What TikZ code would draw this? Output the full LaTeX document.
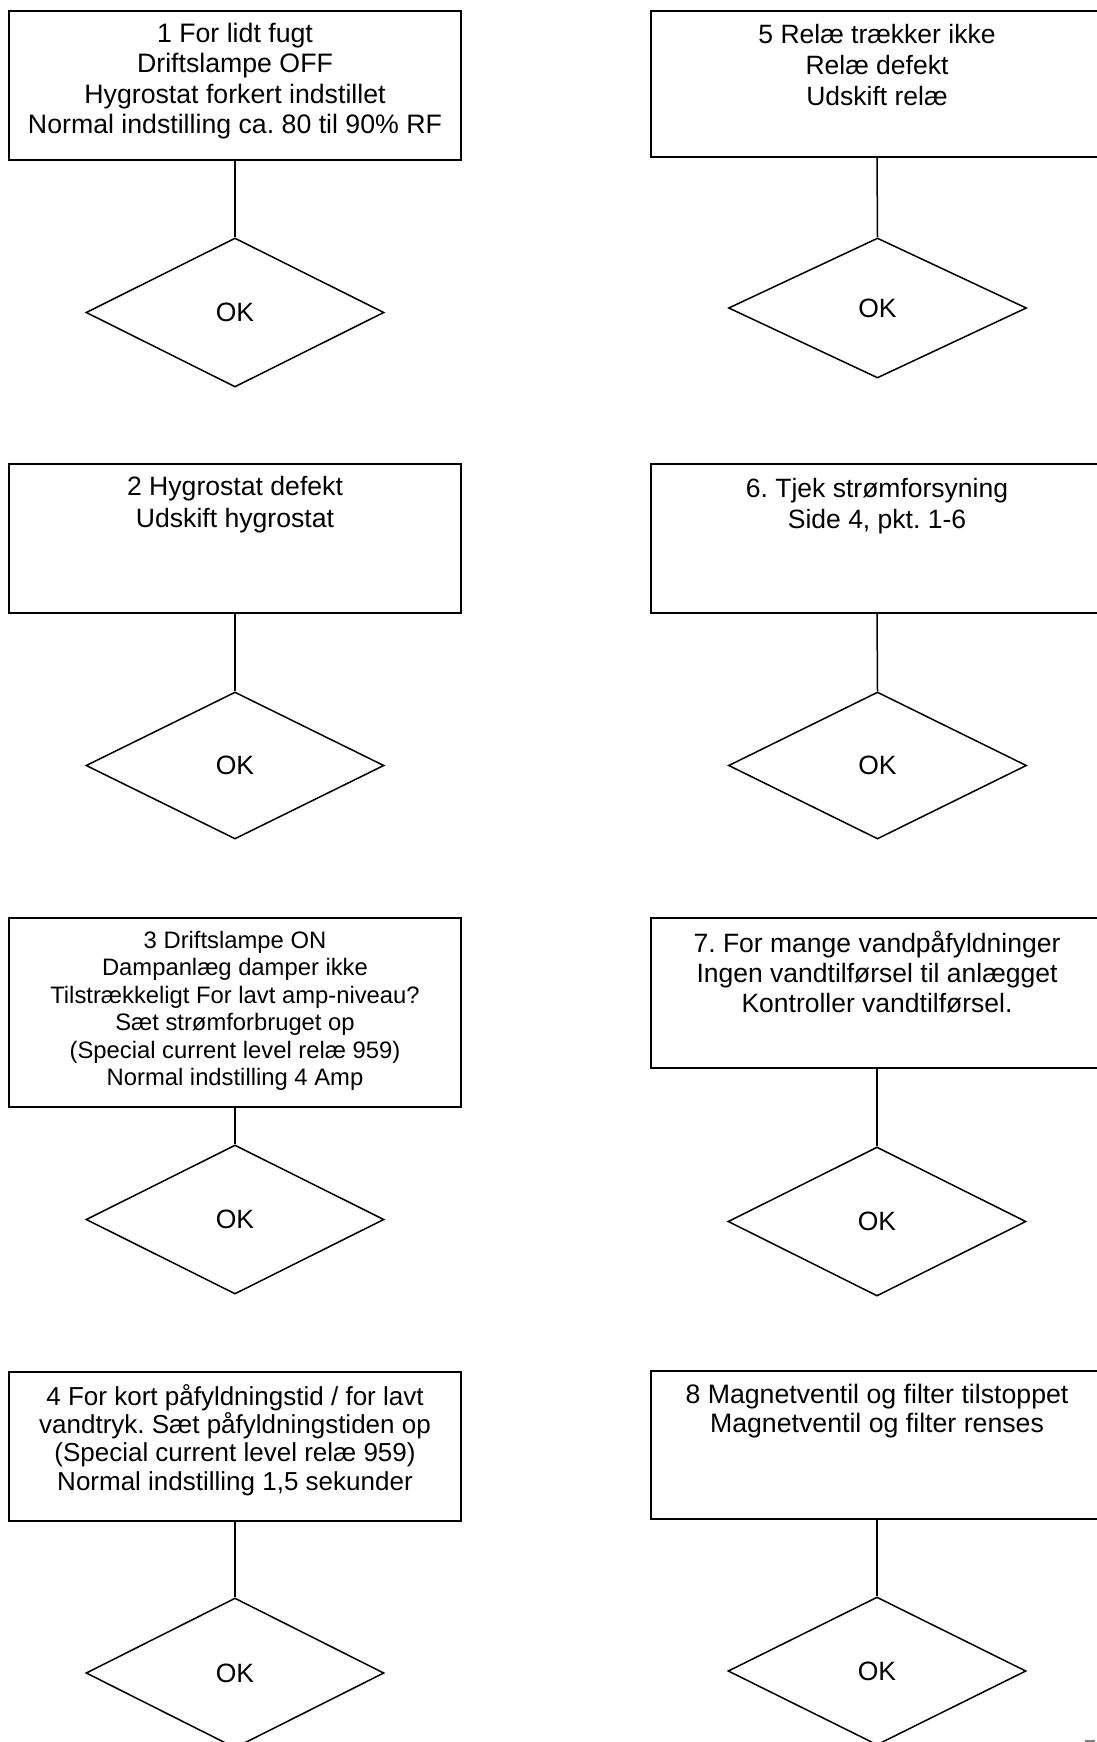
\documentclass[tikz,border=0pt]{standalone}
\usepackage{fontspec}
\setmainfont{Liberation Sans}
\usetikzlibrary{shapes.geometric}
\newcommand{\fsz}[2]{\fontsize{#1}{#2}\selectfont}
\newcommand{\topstrut}{\rule{0pt}{24pt}}
\frenchspacing
\begin{document}
\frenchspacing
\begin{tikzpicture}[x=1pt,y=-1pt,
  box/.style={draw=black, line width=2pt, minimum width=452pt, inner sep=0pt},
  dia/.style={draw=black, diamond, line width=1.5pt, minimum width=298pt, inner sep=0pt, font=\fsz{26.5}{30.5}},
  lbl/.style={anchor=north, inner sep=0pt, align=center},
  link/.style={draw=black, line width=1.5pt}]
\useasboundingbox (0,0) rectangle (1097,1742);
\clip (0,0) rectangle (1097,1742);
\fill[white] (0,0) rectangle (1097,1742);
% left column
\node[box, minimum height=149pt] (b1) at (235,85.5) {};
\node[lbl, font=\fsz{26.7}{30.5}] (t1) at (235,18) {\topstrut 1 For lidt fugt\\Driftslampe OFF\\Hygrostat forkert indstillet\\Normal indstilling ca. 80 til 90\% RF};
\node[dia, minimum height=149pt] (d1) at (235,312.5) {OK};
\draw[link] (b1.south) -- (d1.north);

\node[box, minimum height=149pt] (b2) at (235,538.5) {};
\node[lbl, font=\fsz{26.6}{32}] (t2) at (235,471) {\topstrut 2 Hygrostat defekt\\Udskift hygrostat};
\node[dia, minimum height=147pt] (d2) at (235,765.5) {OK};
\draw[link] (b2.south) -- (d2.north);

\node[box, minimum height=189pt] (b3) at (235,1012.5) {};
\node[lbl, font=\fsz{23.8}{27.5}] (t3) at (235,924) {\topstrut 3 Driftslampe ON\\Dampanlæg damper ikke\\Tilstrækkeligt For lavt amp-niveau?\\Sæt strømforbruget op\\(Special current level relæ 959)\\Normal indstilling 4 Amp};
\node[dia, minimum height=149pt] (d3) at (235,1219.5) {OK};
\draw[link] (b3.south) -- (d3.north);

\node[box, minimum height=149pt] (b4) at (235,1446.5) {};
\node[lbl, font=\fsz{26}{28.3}] (t4) at (235,1381) {\topstrut 4 For kort påfyldningstid / for lavt\\vandtryk. Sæt påfyldningstiden op\\(Special current level relæ 959)\\Normal indstilling 1,5 sekunder};
\node[dia, minimum height=150pt] (d4) at (235,1673) {OK};
\draw[link] (b4.south) -- (d4.north);

% right column
\node[box, minimum height=146pt] (b5) at (877,84) {};
\node[lbl, font=\fsz{26.5}{31}] (t5) at (877,19) {\topstrut 5 Relæ trækker ikke\\Relæ defekt\\Udskift relæ};
\node[dia, minimum height=140pt] (d5) at (877.5,308) {OK};
\draw[link] (b5.south) -- (d5.north);

\node[box, minimum height=149pt] (b6) at (877,538.5) {};
\node[lbl, font=\fsz{26.5}{31}] (t6) at (877,473) {\topstrut 6. Tjek strømforsyning\\Side 4, pkt. 1-6};
\node[dia, minimum height=147pt] (d6) at (877.5,765.5) {OK};
\draw[link] (b6.south) -- (d6.north);

\node[box, minimum height=150pt] (b7) at (877,993) {};
\node[lbl, font=\fsz{26.5}{30}] (t7) at (877,928) {\topstrut 7. For mange vandpåfyldninger\\Ingen vandtilførsel til anlægget\\Kontroller vandtilførsel.};
\node[dia, minimum height=149pt] (d7) at (877,1221.5) {OK};
\draw[link] (b7.south) -- (d7.north);

\node[box, minimum height=148pt] (b8) at (877,1445) {};
\node[lbl, font=\fsz{26.7}{29}] (t8) at (877,1379) {\topstrut 8 Magnetventil og filter tilstoppet\\Magnetventil og filter renses};
\node[dia, minimum height=148pt] (d8) at (877,1671) {OK};
\draw[link] (b8.south) -- (d8.north);

% small fragment at bottom right edge
\draw[gray, line width=1.5pt] (1085,1741) -- (1095,1741);
\end{tikzpicture}
\end{document}
